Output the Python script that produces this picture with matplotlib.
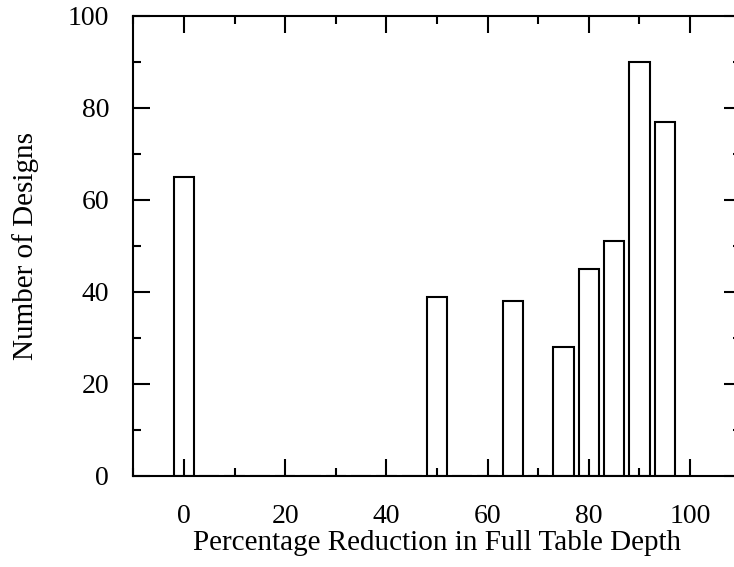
import numpy as np
import matplotlib
matplotlib.use("Agg")
import matplotlib.pyplot as plt
from matplotlib.ticker import MultipleLocator

# reduction bins (%) and number of designs in each bin
reducao = [0, 5, 10, 15, 20, 25, 30, 35, 40, 45, 50, 55, 60, 65, 70, 75, 80, 85, 90, 95]
n_designs = [65, 0, 0, 0, 0, 0, 0, 0, 0, 0, 39, 0, 0, 38, 0, 28, 45, 51, 90, 77]

plt.rcParams["font.family"] = ["Liberation Serif", "DejaVu Serif"]
plt.rcParams["font.size"] = 20

fig = plt.figure(figsize=(7.34, 5.67), dpi=100)
ax = fig.add_axes([0.1817, 0.1605, 0.8273, 0.8113])

ax.bar(reducao, n_designs, width=4.0, color="white", edgecolor="black", linewidth=1.5)

ax.set_xlim(-10, 110)
ax.set_ylim(0, 100)
ax.xaxis.set_major_locator(MultipleLocator(20))
ax.xaxis.set_minor_locator(MultipleLocator(10))
ax.yaxis.set_major_locator(MultipleLocator(20))
ax.yaxis.set_minor_locator(MultipleLocator(10))
ax.set_xticks([0, 20, 40, 60, 80, 100])

ax.tick_params(which="both", direction="in", top=True, right=True, width=1.5)
ax.tick_params(which="major", length=12)
ax.tick_params(which="minor", length=6)
ax.tick_params(axis="x", which="major", pad=20)
ax.tick_params(axis="y", which="major", pad=17.5)
for s in ax.spines.values():
    s.set_linewidth(1.5)

ax.set_xlabel("Percentage Reduction in Full Table Depth", fontsize=21, labelpad=1)
ax.set_ylabel("Number of Designs", fontsize=21, labelpad=21)

fig.savefig("out.png", dpi=100)
